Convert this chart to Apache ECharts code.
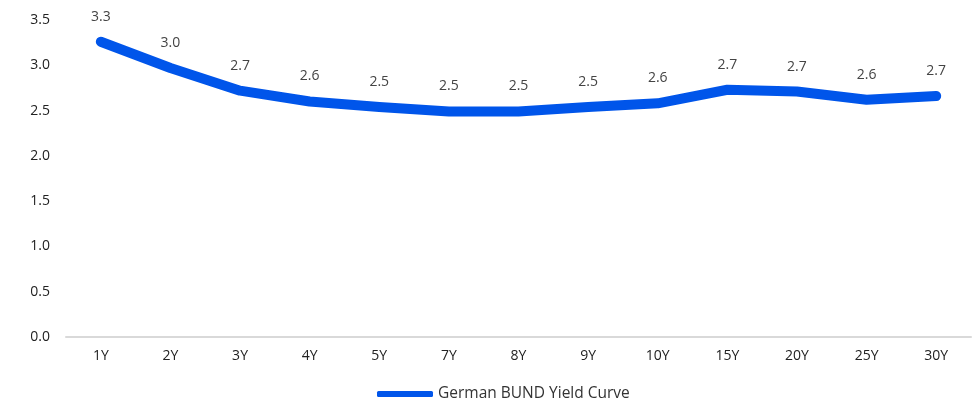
<!DOCTYPE html>
<html>
<head>
<meta charset="utf-8">
<script src="https://cdn.jsdelivr.net/npm/echarts@6/dist/echarts.min.js"></script>
<style>
  html, body { margin: 0; padding: 0; background: #fff; }
  #chart { width: 978px; height: 402px; }
</style>
</head>
<body>
<div id="chart"></div>
<script>
// German Bund yield curve by maturity (%)
const maturities = ['1Y', '2Y', '3Y', '4Y', '5Y', '7Y', '8Y', '9Y', '10Y', '15Y', '20Y', '25Y', '30Y'];
const yields = [3.26, 2.97, 2.72, 2.60, 2.54, 2.49, 2.49, 2.54, 2.58, 2.73, 2.71, 2.62, 2.66];
const seriesName = 'German BUND Yield Curve';

const FONT = '"Open Sans", "Noto Sans", sans-serif';
const BLUE = '#0055ea';

const chart = echarts.init(document.getElementById('chart'), null, { renderer: 'canvas' });
chart.setOption({
  animation: false,
  textStyle: { fontFamily: FONT },
  grid: { left: 66, right: 7, top: 20, bottom: 65, containLabel: false },
  legend: {
    left: 372,
    top: 381,
    itemWidth: 56,
    itemHeight: 6,
    itemGap: 4,
    icon: 'roundRect',
    textStyle: { fontFamily: FONT, fontSize: 15.5, color: '#333' },
    data: [seriesName]
  },
  xAxis: {
    type: 'category',
    data: maturities,
    boundaryGap: true,
    axisLine: { lineStyle: { color: '#d9d9d9', width: 2 } },
    axisTick: { show: false },
    axisLabel: { color: '#222', fontSize: 14, margin: 12, fontFamily: FONT }
  },
  yAxis: {
    type: 'value',
    min: 0,
    max: 3.5,
    interval: 0.5,
    splitLine: { show: false },
    axisLine: { show: false },
    axisTick: { show: false },
    axisLabel: {
      color: '#222',
      fontSize: 14,
      margin: 16,
      fontFamily: FONT,
      formatter: v => v.toFixed(1)
    }
  },
  series: [{
    name: seriesName,
    type: 'line',
    data: yields,
    showSymbol: true,
    symbol: 'circle',
    symbolSize: 0,
    lineStyle: { color: BLUE, width: 10, cap: 'round', join: 'round' },
    itemStyle: { color: BLUE },
    label: {
      show: true,
      position: 'top',
      distance: 18,
      color: '#444',
      fontSize: 14,
      fontFamily: FONT,
      formatter: p => p.value.toFixed(1)
    },
    labelLayout: { hideOverlap: false }
  }]
});
</script>
</body>
</html>
